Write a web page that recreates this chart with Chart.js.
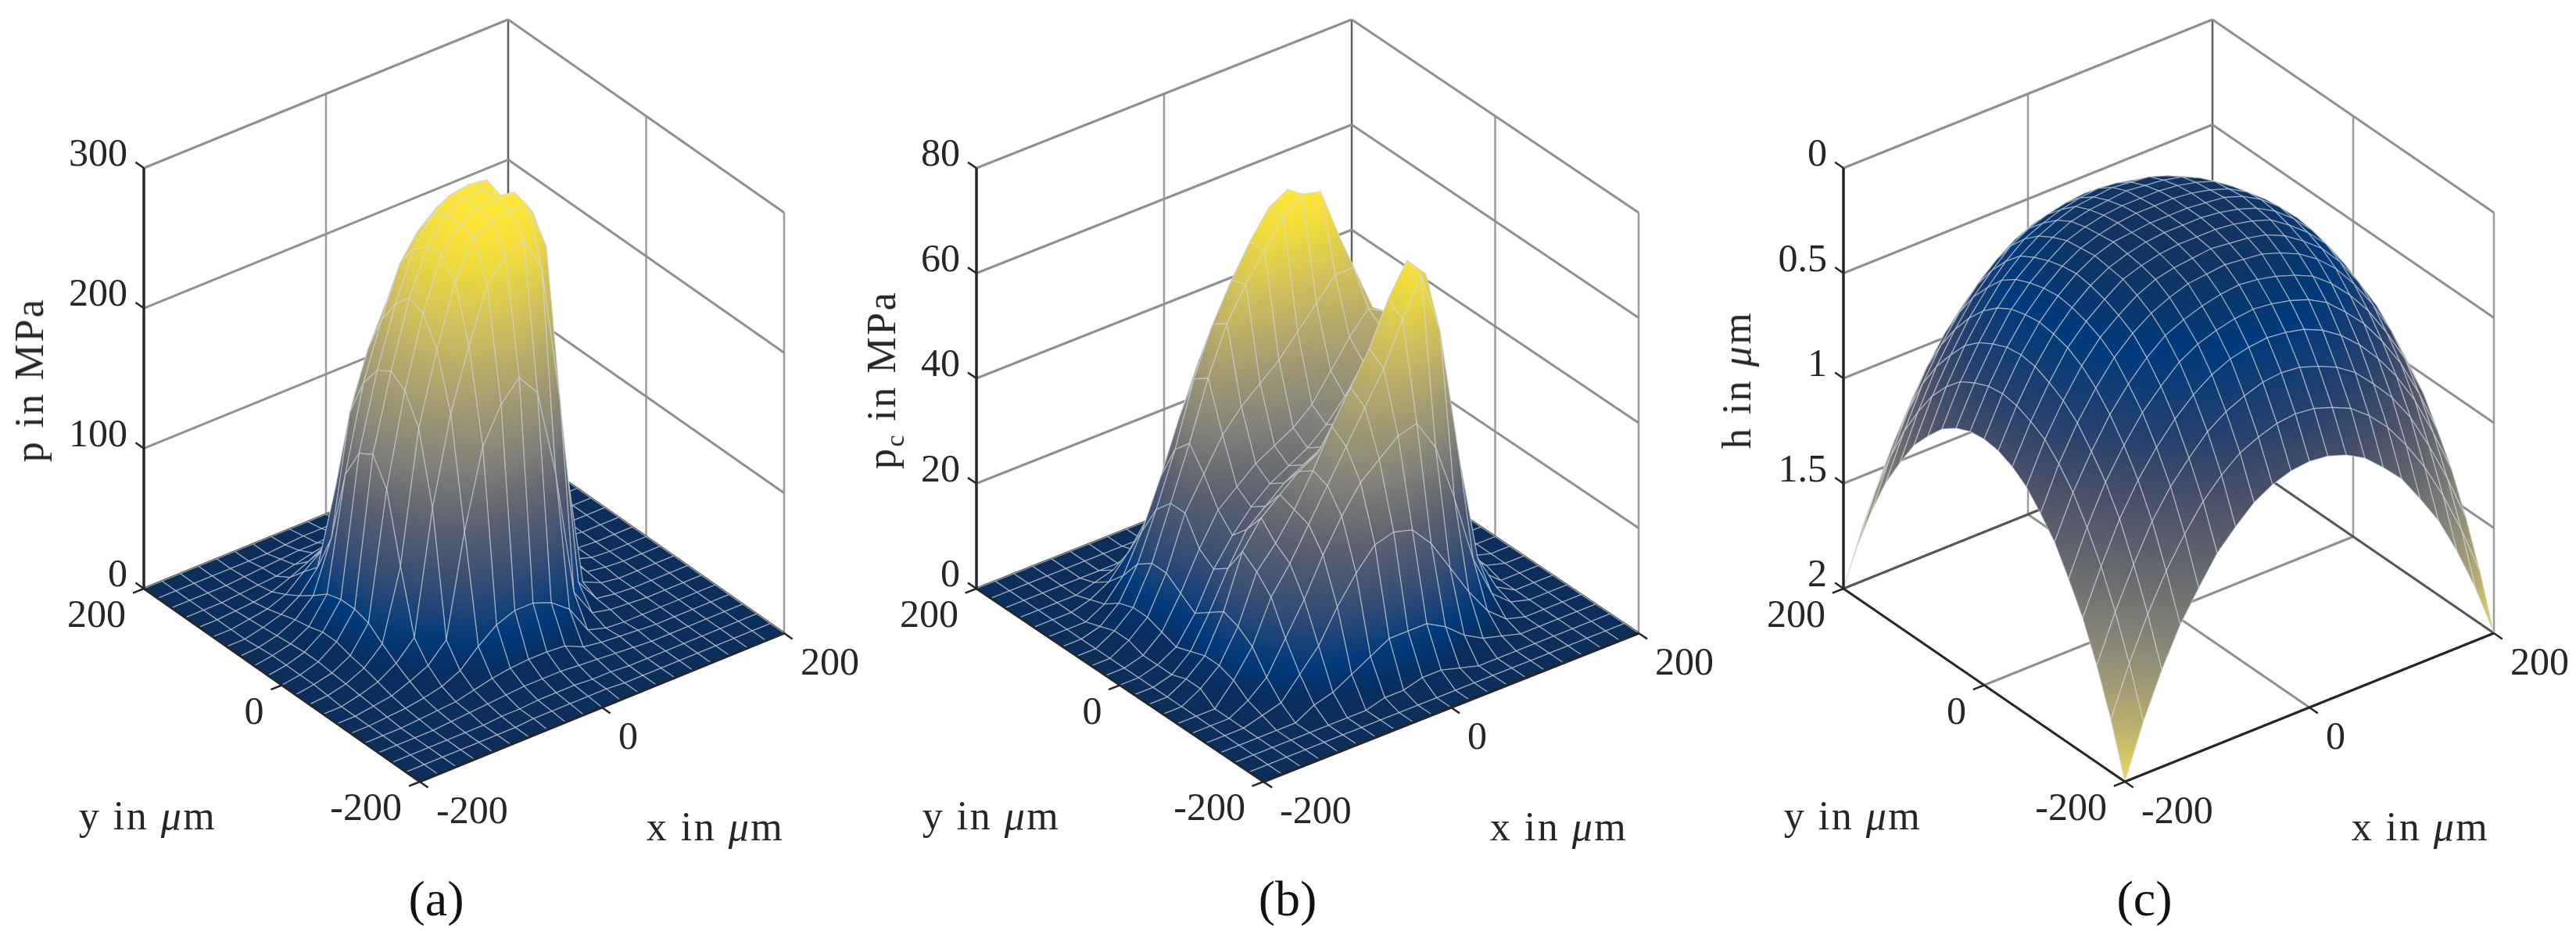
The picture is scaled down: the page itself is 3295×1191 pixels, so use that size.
<!DOCTYPE html>
<html>
<head>
<meta charset="utf-8">
<title>Pressure, contact pressure and gap height</title>
<script src="https://cdn.jsdelivr.net/npm/chart.js@4/dist/chart.umd.min.js"></script>
<style>
  body { margin: 0; background: #fff; }
  #page { position: relative; width: 3295px; height: 1191px; overflow: hidden; }
  canvas { position: absolute; top: 0; }
  .lbl { position: absolute; white-space: nowrap; color: #262626; font-family: "Liberation Serif", serif; font-size: 52px; letter-spacing: 2.5px; transform: translate(-50%, -50%); line-height: 1; }
  .rot { transform: translate(-50%, -50%) rotate(-90deg); }
  .cap { font-size: 64px; letter-spacing: 0; color: #111; }
  sub { font-size: 34px; line-height: 0; }
</style>
</head>
<body>
<div id="page"></div>
<script>
// grid in um, rows run along y, columns along x
var gridX = [-200,-180,-160,-140,-120,-100,-80,-60,-40,-20,0,20,40,60,80,100,120,140,160,180,200];
var gridY = [-200,-180,-160,-140,-120,-100,-80,-60,-40,-20,0,20,40,60,80,100,120,140,160,180,200];

var xTicks = [-200, 0, 200];
var yTicks = [-200, 0, 200];
var pTicks = [0, 100, 200, 300];
var pcTicks = [0, 20, 40, 60, 80];
var hTicks = [0, 0.5, 1, 1.5, 2];

// (a) p in MPa
var pValues = [
  [0,0,0,0,0,0,0,0,0,0,0,0,0,0,0,0,0,0,0,0,0],
  [0,0,0,0,0,0,0,1,1,1,1,1,0,0,0,0,0,0,0,0,0],
  [0,0,0,0,0,0,1,1,2,2,2,1,1,0,0,0,0,0,0,0,0],
  [0,0,0,0,1,2,3,4,5,5,5,4,3,2,1,0,0,0,0,0,0],
  [0,0,0,1,2,3,6,9,11,12,12,11,5,3,2,1,0,0,0,0,0],
  [0,0,1,2,4,7,13,25,35,40,40,35,25,5,1,0,0,0,0,0,0],
  [0,0,2,4,9,15,28,100,155,180,194,178,115,25,5,2,1,0,0,0,0],
  [0,0,3,7,15,28,115,177,220,258,274,280,254,155,20,3,1,0,0,0,0],
  [0,1,4,10,22,72,165,216,259,286,292,294,292,258,105,8,2,0,0,0,0],
  [0,2,5,12,30,120,185,235,272,288,295,295,295,276,180,18,3,1,0,0,0],
  [0,2,6,15,33,138,192,239,270,288,295,295,286,262,195,22,5,1,0,0,0],
  [0,2,6,15,33,132,186,228,262,281,290,292,290,259,180,25,6,1,0,0,0],
  [0,2,5,12,30,110,170,210,245,263,274,276,266,227,150,22,6,2,0,0,0],
  [0,1,4,10,22,58,142,182,210,230,244,240,219,177,70,18,5,2,0,0,0],
  [0,0,3,7,15,30,83,142,169,186,192,186,163,100,25,12,4,2,0,0,0],
  [0,0,2,4,9,20,30,58,105,125,130,110,60,30,13,5,2,1,0,0,0],
  [0,0,1,2,4,9,15,22,30,35,33,28,20,12,7,3,1,0,0,0,0],
  [0,0,0,1,2,3,6,9,11,12,12,10,8,5,3,2,1,0,0,0,0],
  [0,0,0,0,1,2,3,4,4,5,5,4,3,2,1,0,0,0,0,0,0],
  [0,0,0,0,0,0,0,1,2,2,2,1,1,0,0,0,0,0,0,0,0],
  [0,0,0,0,0,0,0,0,0,0,0,0,0,0,0,0,0,0,0,0,0]
];

// (b) pc in MPa
var pcValues = [
  [0,0,0,0,0,0,0,0,0,0,0,0,0,0,0,0,0,0,0,0,0],
  [0,0,0,0,0,0,0,0,0,0,0,0,0,0,0,0,0,0,0,0,0],
  [0,0,0,0,0,0,0,0,1,1,2,2,1,0,0,0,0,0,0,0,0],
  [0,0,0,0,0,2,3,5,7,9,9,9,7,4,2,1,0,0,0,0,0],
  [0,0,0,1,2,6,10,16,21,25,26,25,21,15,9,4,1,0,0,0,0],
  [0,0,0,2,5,11,17,24,30,35,38,41,42,36,25,12,4,1,0,0,0],
  [0,0,0,4,9,17,22,28,34,40,46,52,60,67,55,30,9,2,0,0,0],
  [0,0,2,5,11,20,24,29,35,42,48,54,62,68,64,42,15,3,0,0,0],
  [0,0,2,5,12,22,27,30,33,35,37,42,50,56,56,47,20,4,1,0,0],
  [0,0,1,4,10,17,23,26,29,31,33,36,41,46,50,48,25,5,1,0,0],
  [0,0,1,3,8,15,20,24,27,29,31,34,38,43,48,46,25,5,1,0,0],
  [0,0,1,4,10,17,23,26,29,31,33,36,41,46,50,48,25,5,1,0,0],
  [0,0,2,5,12,22,28,34,38,41,44,48,52,56,56,47,20,4,1,0,0],
  [0,0,2,5,12,22,32,43,52,58,63,68,71,70,60,38,14,3,0,0,0],
  [0,0,1,4,10,19,29,41,50,57,63,68,70,65,48,26,9,2,0,0,0],
  [0,0,0,2,6,13,22,32,41,47,50,50,45,35,22,11,4,1,0,0,0],
  [0,0,0,1,3,7,12,18,23,26,26,24,19,13,8,4,1,0,0,0,0],
  [0,0,0,0,1,2,4,6,8,9,9,8,6,4,2,1,0,0,0,0,0],
  [0,0,0,0,0,0,0,1,1,2,2,1,1,0,0,0,0,0,0,0,0],
  [0,0,0,0,0,0,0,0,0,0,0,0,0,0,0,0,0,0,0,0,0],
  [0,0,0,0,0,0,0,0,0,0,0,0,0,0,0,0,0,0,0,0,0]
];

// (c) h in um
var hValues = [
  [2.0,1.75,1.54,1.36,1.22,1.09,1.0,.92,.87,.84,.83,.84,.87,.92,1.0,1.09,1.22,1.36,1.54,1.75,2.0],
  [1.75,1.52,1.32,1.15,1.01,.89,.80,.73,.69,.66,.65,.66,.69,.73,.80,.89,1.01,1.15,1.32,1.52,1.75],
  [1.54,1.32,1.13,.96,.83,.73,.64,.58,.54,.51,.50,.51,.54,.58,.64,.73,.83,.96,1.13,1.32,1.54],
  [1.36,1.15,.96,.81,.69,.59,.51,.45,.41,.39,.38,.39,.41,.45,.51,.59,.69,.81,.96,1.15,1.36],
  [1.22,1.01,.83,.69,.57,.48,.40,.35,.32,.30,.29,.30,.32,.35,.40,.48,.57,.69,.83,1.01,1.22],
  [1.09,.89,.73,.59,.48,.39,.32,.28,.25,.23,.22,.23,.25,.28,.32,.39,.48,.59,.73,.89,1.09],
  [1.0,.80,.64,.51,.40,.32,.26,.22,.19,.18,.17,.18,.19,.22,.26,.32,.40,.51,.64,.80,1.0],
  [.92,.73,.58,.45,.35,.28,.22,.18,.16,.15,.14,.15,.16,.18,.22,.28,.35,.45,.58,.73,.92],
  [.87,.69,.54,.41,.32,.25,.19,.16,.14,.13,.13,.13,.14,.16,.19,.25,.32,.41,.54,.69,.87],
  [.84,.66,.51,.39,.30,.23,.18,.15,.13,.12,.12,.12,.13,.15,.18,.23,.30,.39,.51,.66,.84],
  [.83,.65,.50,.38,.29,.22,.17,.14,.13,.12,.12,.12,.13,.14,.17,.22,.29,.38,.50,.65,.83],
  [.84,.66,.51,.39,.30,.23,.18,.15,.13,.12,.12,.12,.13,.15,.18,.23,.30,.39,.51,.66,.84],
  [.87,.69,.54,.41,.32,.25,.19,.16,.14,.13,.13,.13,.14,.16,.19,.25,.32,.41,.54,.69,.87],
  [.92,.73,.58,.45,.35,.28,.22,.18,.16,.15,.14,.15,.16,.18,.22,.28,.35,.45,.58,.73,.92],
  [1.0,.80,.64,.51,.40,.32,.26,.22,.19,.18,.17,.18,.19,.22,.26,.32,.40,.51,.64,.80,1.0],
  [1.09,.89,.73,.59,.48,.39,.32,.28,.25,.23,.22,.23,.25,.28,.32,.39,.48,.59,.73,.89,1.09],
  [1.22,1.01,.83,.69,.57,.48,.40,.35,.32,.30,.29,.30,.32,.35,.40,.48,.57,.69,.83,1.01,1.22],
  [1.36,1.15,.96,.81,.69,.59,.51,.45,.41,.39,.38,.39,.41,.45,.51,.59,.69,.81,.96,1.15,1.36],
  [1.54,1.32,1.13,.96,.83,.73,.64,.58,.54,.51,.50,.51,.54,.58,.64,.73,.83,.96,1.13,1.32,1.54],
  [1.75,1.52,1.32,1.15,1.01,.89,.80,.73,.69,.66,.65,.66,.69,.73,.80,.89,1.01,1.15,1.32,1.52,1.75],
  [2.0,1.75,1.54,1.36,1.22,1.09,1.0,.92,.87,.84,.83,.84,.87,.92,1.0,1.09,1.22,1.36,1.54,1.75,2.0]
];

var pressureMap = [[0,12,46,90],[.04,8,46,96],[.1,0,58,124],[.2,47,74,118],[.35,91,96,112],[.5,134,132,122],[.65,172,162,111],[.8,212,195,90],[.9,236,216,63],[1,255,232,56]];
var gapMap = [[0,20,52,95],[.13,0,58,124],[.28,36,64,110],[.41,74,80,104],[.57,106,108,112],[.73,143,140,120],[.87,184,173,110],[1,232,217,95]];

var meshColor = "rgba(214,218,224,0.55)";
var wallColor = "#909090";
var edgeColor = "#555555";
var axisColor = "#262626";

function colorAt(map, t) {
  t = Math.max(0, Math.min(1, t));
  for (var i = 1; i < map.length; i++) {
    if (t <= map[i][0]) {
      var a = map[i - 1], b = map[i];
      var f = (t - a[0]) / (b[0] - a[0]);
      return "rgb(" + Math.round(a[1] + f * (b[1] - a[1])) + "," + Math.round(a[2] + f * (b[2] - a[2])) + "," + Math.round(a[3] + f * (b[3] - a[3])) + ")";
    }
  }
  return "rgb(" + map[map.length - 1].slice(1).join(",") + ")";
}

function project(pn, x, y, z) {
  var fx = (x + 200) / 400, fy = (y + 200) / 400;
  var h = (z - pn.zBottom) / (pn.zTop - pn.zBottom);
  return {
    x: pn.F[0] + fx * (pn.R[0] - pn.F[0]) + fy * (pn.L[0] - pn.F[0]),
    y: pn.F[1] + fx * (pn.R[1] - pn.F[1]) + fy * (pn.L[1] - pn.F[1]) - h * pn.zPixels
  };
}

// a gradient running along the slope of the colour value on one cell
function cellFill(chart, pn, pts, ts) {
  var sx = chart.scales.x, sy = chart.scales.y;
  var q = pts.map(function (p) { return [sx.getPixelForValue(p.x), sy.getPixelForValue(p.y)]; });
  var lo = Math.min.apply(null, ts), hi = Math.max.apply(null, ts);
  var mid = (ts[0] + ts[1] + ts[2] + ts[3]) / 4;
  var flat = colorAt(pn.map, mid);
  if (!isFinite(q[0][0]) || !isFinite(q[0][1])) return flat;
  if (hi - lo < 0.002) return flat;
  var d1 = [q[2][0] - q[0][0], q[2][1] - q[0][1]], d2 = [q[3][0] - q[1][0], q[3][1] - q[1][1]];
  var det = d1[0] * d2[1] - d1[1] * d2[0];
  if (Math.abs(det) < 1e-3) return flat;
  var dt1 = ts[2] - ts[0], dt2 = ts[3] - ts[1];
  var gx = (dt1 * d2[1] - dt2 * d1[1]) / det, gy = (d1[0] * dt2 - d2[0] * dt1) / det;
  var g2 = gx * gx + gy * gy;
  if (g2 < 1e-12) return flat;
  var cx = (q[0][0] + q[1][0] + q[2][0] + q[3][0]) / 4, cy = (q[0][1] + q[1][1] + q[2][1] + q[3][1]) / 4;
  var grad = chart.ctx.createLinearGradient(cx + gx / g2 * (lo - mid), cy + gy / g2 * (lo - mid), cx + gx / g2 * (hi - mid), cy + gy / g2 * (hi - mid));
  for (var s = 0; s <= 6; s++) grad.addColorStop(s / 6, colorAt(pn.map, lo + (hi - lo) * s / 6));
  return grad;
}

function lineSet(pts, color, width) {
  return { data: pts, showLine: true, fill: false, borderColor: color, borderWidth: width, pointRadius: 0, clip: false };
}

function buildDatasets(pn) {
  var sets = [], base = [], top = [];
  var z0 = pn.zBottom, z1 = pn.zTop;

  // black axes and ticks sit on top of everything
  top.push(lineSet([project(pn, -200, 200, z0), project(pn, -200, -200, z0)], axisColor, 3));
  top.push(lineSet([project(pn, -200, -200, z0), project(pn, 200, -200, z0)], axisColor, 3.5));
  top.push(lineSet([project(pn, -200, 200, z0), project(pn, -200, 200, z1)], axisColor, 3.5));
  xTicks.forEach(function (v) { top.push(lineSet([project(pn, v, -200, z0), project(pn, v, -212, z0)], axisColor, 2.5)); });
  yTicks.forEach(function (v) { top.push(lineSet([project(pn, -200, v, z0), project(pn, -212, v, z0)], axisColor, 2.5)); });
  pn.zTicks.forEach(function (v) { top.push(lineSet([project(pn, -200, 200, v), project(pn, -200, 212, v)], axisColor, 2.5)); });
  sets = sets.concat(top);

  // surface cells, front ones first because Chart.js paints the last dataset first
  var rows = pn.values;
  var lo = pn.cMin, hi = pn.cMax;
  for (var i = 0; i < gridY.length - 1; i++) {
    for (var j = 0; j < gridX.length - 1; j++) {
      (function (i, j) {
        var cell = [[i, j], [i, j + 1], [i + 1, j + 1], [i + 1, j]];
        var pts = cell.map(function (c) { return project(pn, gridX[c[1]], gridY[c[0]], rows[c[0]][c[1]]); });
        var ts = cell.map(function (c) { return (rows[c[0]][c[1]] - lo) / (hi - lo); });
        sets.push({
          data: pts.concat([pts[0]]), showLine: true, fill: "shape", borderColor: meshColor, borderWidth: 1.3,
          pointRadius: 0, clip: false,
          backgroundColor: function (ctx) { return cellFill(ctx.chart, pn, pts, ts); }
        });
      })(i, j);
    }
  }

  // box behind the surface
  base.push(lineSet([project(pn, -200, 200, z0), project(pn, 200, 200, z0)], edgeColor, 3));
  base.push(lineSet([project(pn, 200, 200, z0), project(pn, 200, -200, z0)], edgeColor, 3));
  base.push(lineSet([project(pn, 0, -200, z0), project(pn, 0, 200, z0)], wallColor, 3));
  base.push(lineSet([project(pn, -200, 0, z0), project(pn, 200, 0, z0)], wallColor, 3));
  pn.zTicks.forEach(function (v) {
    if (v === z0) return;
    base.push(lineSet([project(pn, -200, 200, v), project(pn, 200, 200, v)], wallColor, 3));
    base.push(lineSet([project(pn, 200, 200, v), project(pn, 200, -200, v)], wallColor, 3));
  });
  base.push(lineSet([project(pn, 200, 200, z0), project(pn, 200, 200, z1)], "#5f5f5f", 2.5));
  base.push(lineSet([project(pn, 0, 200, z0), project(pn, 0, 200, z1)], "#9c9c9c", 2.5));
  base.push(lineSet([project(pn, 200, 0, z0), project(pn, 200, 0, z1)], "#9c9c9c", 2.5));
  base.push(lineSet([project(pn, 200, -200, z0), project(pn, 200, -200, z1)], "#9c9c9c", 2.5));
  return sets.concat(base);
}

var tickText = {
  id: "tickText",
  afterDraw: function (chart, args, opts) {
    var pn = opts.panel, c = chart.ctx, sx = chart.scales.x, sy = chart.scales.y;
    c.save();
    c.fillStyle = axisColor;
    c.font = '50px "Liberation Serif", serif';
    c.textBaseline = "middle";
    c.textAlign = "right";
    pn.zTicks.forEach(function (v) {
      var p = project(pn, -200, 200, v);
      c.fillText(String(v), sx.getPixelForValue(p.x) - 21, sy.getPixelForValue(p.y) - 16);
    });
    yTicks.forEach(function (v) {
      var p = project(pn, -200, v, pn.zBottom);
      c.fillText(String(v), sx.getPixelForValue(p.x) - 23, sy.getPixelForValue(p.y) + 36);
    });
    c.textAlign = "left";
    xTicks.forEach(function (v) {
      var p = project(pn, v, -200, pn.zBottom);
      c.fillText(String(v), sx.getPixelForValue(p.x) + 21, sy.getPixelForValue(p.y) + 40);
    });
    c.restore();
  }
};

var panels = [
  { left: 0, right: 1105, F: [537, 1000], L: [184, 753], R: [1003, 810], zPixels: 538, zBottom: 0, zTop: 300, zTicks: pTicks,
    values: pValues, cMin: 0, cMax: 295, map: pressureMap,
    zLabel: "p in MPa", zLabelX: 38, caption: "(a)", captionX: 558 },
  { left: 1105, right: 2190, F: [1616, 1000], L: [1249, 753], R: [2096, 810], zPixels: 538, zBottom: 0, zTop: 80, zTicks: pcTicks,
    values: pcValues, cMin: 0, cMax: 71, map: pressureMap,
    zLabel: "p<sub>c</sub> in MPa", zLabelX: 1128, caption: "(b)", captionX: 1647 },
  { left: 2190, right: 3295, F: [2718, 1000], L: [2358, 753], R: [3190, 810], zPixels: 538, zBottom: 2, zTop: 0, zTicks: hTicks,
    values: hValues, cMin: 0.12, cMax: 2, map: gapMap,
    zLabel: "h in <i>&mu;</i>m", zLabelX: 2222, caption: "(c)", captionX: 2743 }
];

function addLabel(html, x, y, cls) {
  var d = document.createElement("div");
  d.className = "lbl " + (cls || "");
  d.innerHTML = html;
  d.style.left = x + "px";
  d.style.top = y + "px";
  document.getElementById("page").appendChild(d);
}

panels.forEach(function (pn) {
  var cv = document.createElement("canvas");
  cv.width = pn.right - pn.left;
  cv.height = 1191;
  cv.style.left = pn.left + "px";
  document.getElementById("page").appendChild(cv);
  new Chart(cv, {
    type: "scatter",
    data: { datasets: buildDatasets(pn) },
    options: {
      responsive: false,
      animation: false,
      events: [],
      layout: { padding: 0 },
      plugins: { legend: { display: false }, tooltip: { enabled: false }, tickText: { panel: pn } },
      scales: {
        x: { type: "linear", display: false, min: pn.left, max: pn.right },
        y: { type: "linear", display: false, min: 0, max: 1191, reverse: true }
      }
    },
    plugins: [tickText]
  });
  addLabel("y in <i>&mu;</i>m", pn.F[0] - 348, 1044);
  addLabel("x in <i>&mu;</i>m", pn.F[0] + 378, 1058);
  addLabel(pn.zLabel, pn.zLabelX, 486, "rot");
  addLabel(pn.caption, pn.captionX, 1150, "cap");
});
</script>
</body>
</html>
